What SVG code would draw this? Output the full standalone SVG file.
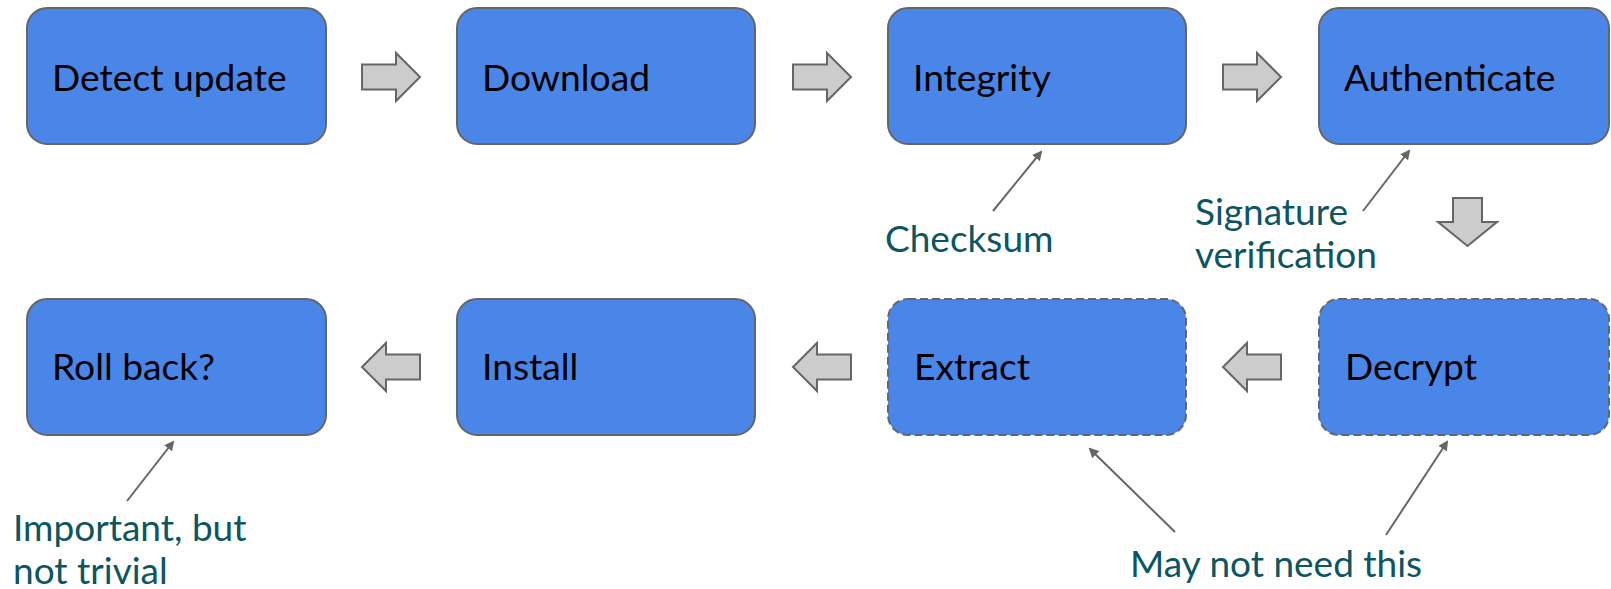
<svg xmlns="http://www.w3.org/2000/svg" width="1611" height="589" viewBox="0 0 1611 589">
<style>
.box{fill:#4a86e8;stroke:#666666;stroke-width:2}
.dash{stroke-dasharray:8 4}
.lbl{font-family:Lato,"Liberation Sans",sans-serif;font-size:37.2px;fill:#000000}
.note{font-family:Lato,"Liberation Sans",sans-serif;font-size:37px;fill:#0c5561}
.blk{fill:#cccccc;stroke:#666666;stroke-width:2;stroke-linejoin:miter}
.call{stroke:#666666;stroke-width:2;fill:none;marker-end:url(#ah)}
</style>
<defs>
<marker id="ah" viewBox="0 0 10 10" refX="8" refY="5" markerWidth="5" markerHeight="5" orient="auto" markerUnits="strokeWidth">
<path d="M0,0 L10,5 L0,10 z" fill="#666666"/>
</marker>
<path id="rarrow" d="M0,-12.5 H34 V-24 L58,0 L34,24 V12.5 H0 Z"/>
</defs>
<rect width="1611" height="589" fill="#ffffff"/>
<g id="n-detect"><rect class="box" x="27" y="8" width="299" height="136" rx="20"/><text class="lbl" x="52" y="91">Detect update</text></g>
<g id="n-download"><rect class="box" x="457" y="8" width="298" height="136" rx="20"/><text class="lbl" x="482" y="91">Download</text></g>
<g id="n-integrity"><rect class="box" x="888" y="8" width="298" height="136" rx="20"/><text class="lbl" x="913" y="91">Integrity</text></g>
<g id="n-auth"><rect class="box" x="1319" y="8" width="290" height="136" rx="20"/><text class="lbl" x="1344" y="91">Authenticate</text></g>
<g id="n-decrypt"><rect class="box dash" x="1319" y="299" width="290" height="136" rx="20"/><text class="lbl" x="1345" y="380">Decrypt</text></g>
<g id="n-extract"><rect class="box dash" x="888" y="299" width="298" height="136" rx="20"/><text class="lbl" x="914" y="380">Extract</text></g>
<g id="n-install"><rect class="box" x="457" y="299" width="298" height="136" rx="20"/><text class="lbl" x="482" y="380">Install</text></g>
<g id="n-rollback"><rect class="box" x="27" y="299" width="299" height="136" rx="20"/><text class="lbl" x="52" y="380">Roll back?</text></g>
<g id="connectors">
<use href="#rarrow" class="blk" transform="translate(362,77)"/>
<use href="#rarrow" class="blk" transform="translate(793,77)"/>
<use href="#rarrow" class="blk" transform="translate(1223,77)"/>
<path class="blk" d="M1453,198 H1482 V222 H1497 L1467.5,246 L1438,222 H1453 Z"/>
<use href="#rarrow" class="blk" transform="translate(1281,367) rotate(180)"/>
<use href="#rarrow" class="blk" transform="translate(851,367) rotate(180)"/>
<use href="#rarrow" class="blk" transform="translate(420,367) rotate(180)"/>
<line class="call" x1="993" y1="211" x2="1041" y2="152"/>
<line class="call" x1="1363" y1="211" x2="1409" y2="151"/>
<line class="call" x1="1386" y1="535" x2="1447" y2="442"/>
<line class="call" x1="1175" y1="532" x2="1090" y2="449"/>
<line class="call" x1="127" y1="501" x2="173" y2="442"/>
</g>
<g id="notes">
<text class="note" x="885" y="252">Checksum</text>
<text class="note" x="1195" y="225">Signature</text>
<text class="note" x="1195" y="268">verification</text>
<text class="note" x="13" y="541">Important, but</text>
<text class="note" x="13" y="584">not trivial</text>
<text class="note" x="1130" y="577">May not need this</text>
</g>
</svg>
